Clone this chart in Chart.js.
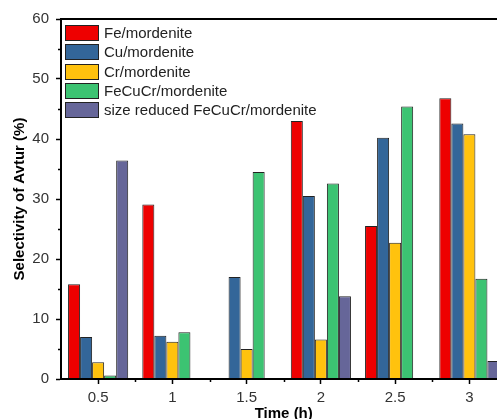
<!DOCTYPE html>
<html>
<head>
<meta charset="utf-8">
<script src="https://cdn.jsdelivr.net/npm/chart.js@4.4.0/dist/chart.umd.min.js"></script>
<style>
  html, body { margin: 0; padding: 0; background: #fff; overflow: hidden; }
  #wrap { position: relative; width: 510px; height: 423px; }
</style>
</head>
<body>
<div id="wrap"><canvas id="chart"></canvas></div>
<script>
const times = ['0.5', '1', '1.5', '2', '2.5', '3'];
const seriesNames = ['Fe/mordenite', 'Cu/mordenite', 'Cr/mordenite', 'FeCuCr/mordenite', 'size reduced FeCuCr/mordenite'];
const seriesColors = ['#ee0000', '#336699', '#ffc20e', '#3cc372', '#666699'];
const feValues = [15.8, 29.1, null, 43.0, 25.5, 46.8];
const cuValues = [7.0, 7.2, 17.0, 30.5, 40.2, 42.6];
const crValues = [2.8, 6.2, 5.0, 6.6, 22.7, 40.8];
const fecucrValues = [0.6, 7.8, 34.5, 32.6, 45.4, 16.7];
const reducedValues = [36.4, null, null, 13.8, null, 3.0];
const yTickValues = [0, 10, 20, 30, 40, 50, 60];
const yMinorValues = [5, 15, 25, 35, 45, 55];

const FONT = 'Liberation Sans, Arial, sans-serif';
const allSeries = [feValues, cuValues, crValues, fecucrValues, reducedValues];

// frame, minor ticks and the legend boxed into the top-left of the plot
const decorations = {
  id: 'decorations',
  afterDraw(chart) {
    const { ctx, chartArea: a } = chart;
    const xs = chart.scales.x, ys = chart.scales.y;
    ctx.save();
    ctx.strokeStyle = '#000';
    ctx.lineWidth = 2;
    ctx.strokeRect(a.left, a.top, a.right - a.left, a.bottom - a.top);

    ctx.lineWidth = 1.5;
    ctx.beginPath();
    yMinorValues.forEach(v => {
      const y = Math.round(ys.getPixelForValue(v)) + 0.5;
      ctx.moveTo(a.left - 3, y);
      ctx.lineTo(a.left, y);
    });
    for (let i = 0; i < times.length - 1; i++) {
      const x = Math.round((xs.getPixelForValue(i) + xs.getPixelForValue(i + 1)) / 2) + 0.5;
      ctx.moveTo(x, a.bottom);
      ctx.lineTo(x, a.bottom + 3);
    }
    ctx.stroke();

    const x0 = a.left + 4, y0 = a.top + 6;
    ctx.font = '15px ' + FONT;
    ctx.textBaseline = 'middle';
    chart.data.datasets.forEach((ds, i) => {
      const y = Math.round(y0 + i * 19.3);
      ctx.fillStyle = ds.backgroundColor;
      ctx.fillRect(x0, y, 34, 16);
      ctx.lineWidth = 1;
      ctx.strokeStyle = '#222';
      ctx.strokeRect(x0 + 0.5, y + 0.5, 33, 15);
      ctx.fillStyle = '#222';
      ctx.fillText(ds.label, x0 + 39, y + 8.5);
    });
    ctx.restore();
  }
};

new Chart(document.getElementById('chart'), {
  type: 'bar',
  data: {
    labels: times,
    datasets: allSeries.map((vals, i) => ({
      label: seriesNames[i],
      data: vals,
      backgroundColor: seriesColors[i],
      borderColor: '#222',
      borderWidth: 1,
      categoryPercentage: 0.81,
      barPercentage: 1.0
    }))
  },
  options: {
    responsive: true,
    maintainAspectRatio: false,
    animation: false,
    layout: { padding: { top: 19, right: 3.5, bottom: 0, left: 0 } },
    plugins: { legend: { display: false }, tooltip: { enabled: false } },
    scales: {
      x: {
        offset: true,
        grid: { drawOnChartArea: false, offset: false, tickLength: 5, tickColor: '#000', tickWidth: 1.5 },
        border: { color: '#000', width: 2 },
        ticks: { color: '#333', font: { size: 15, family: FONT }, padding: 5, maxRotation: 0 },
        title: { display: true, text: 'Time (h)', color: '#000', font: { size: 15, weight: 'bold', family: FONT }, padding: { top: 0, bottom: 0 } },
        afterFit(scale) { scale.height = 423 - 379; }
      },
      y: {
        min: 0,
        max: 60,
        afterBuildTicks(scale) { scale.ticks = yTickValues.map(v => ({ value: v })); },
        grid: { drawOnChartArea: false, tickLength: 5, tickColor: '#000', tickWidth: 1.5 },
        border: { color: '#000', width: 2 },
        ticks: { color: '#333', font: { size: 15, family: FONT }, padding: 7 },
        title: { display: true, text: 'Selectivity of Avtur (%)', color: '#000', font: { size: 15, weight: 'bold', family: FONT }, padding: { top: 11, bottom: 0 } },
        afterFit(scale) { scale.width = 61; }
      }
    }
  },
  plugins: [decorations]
});
</script>
</body>
</html>
